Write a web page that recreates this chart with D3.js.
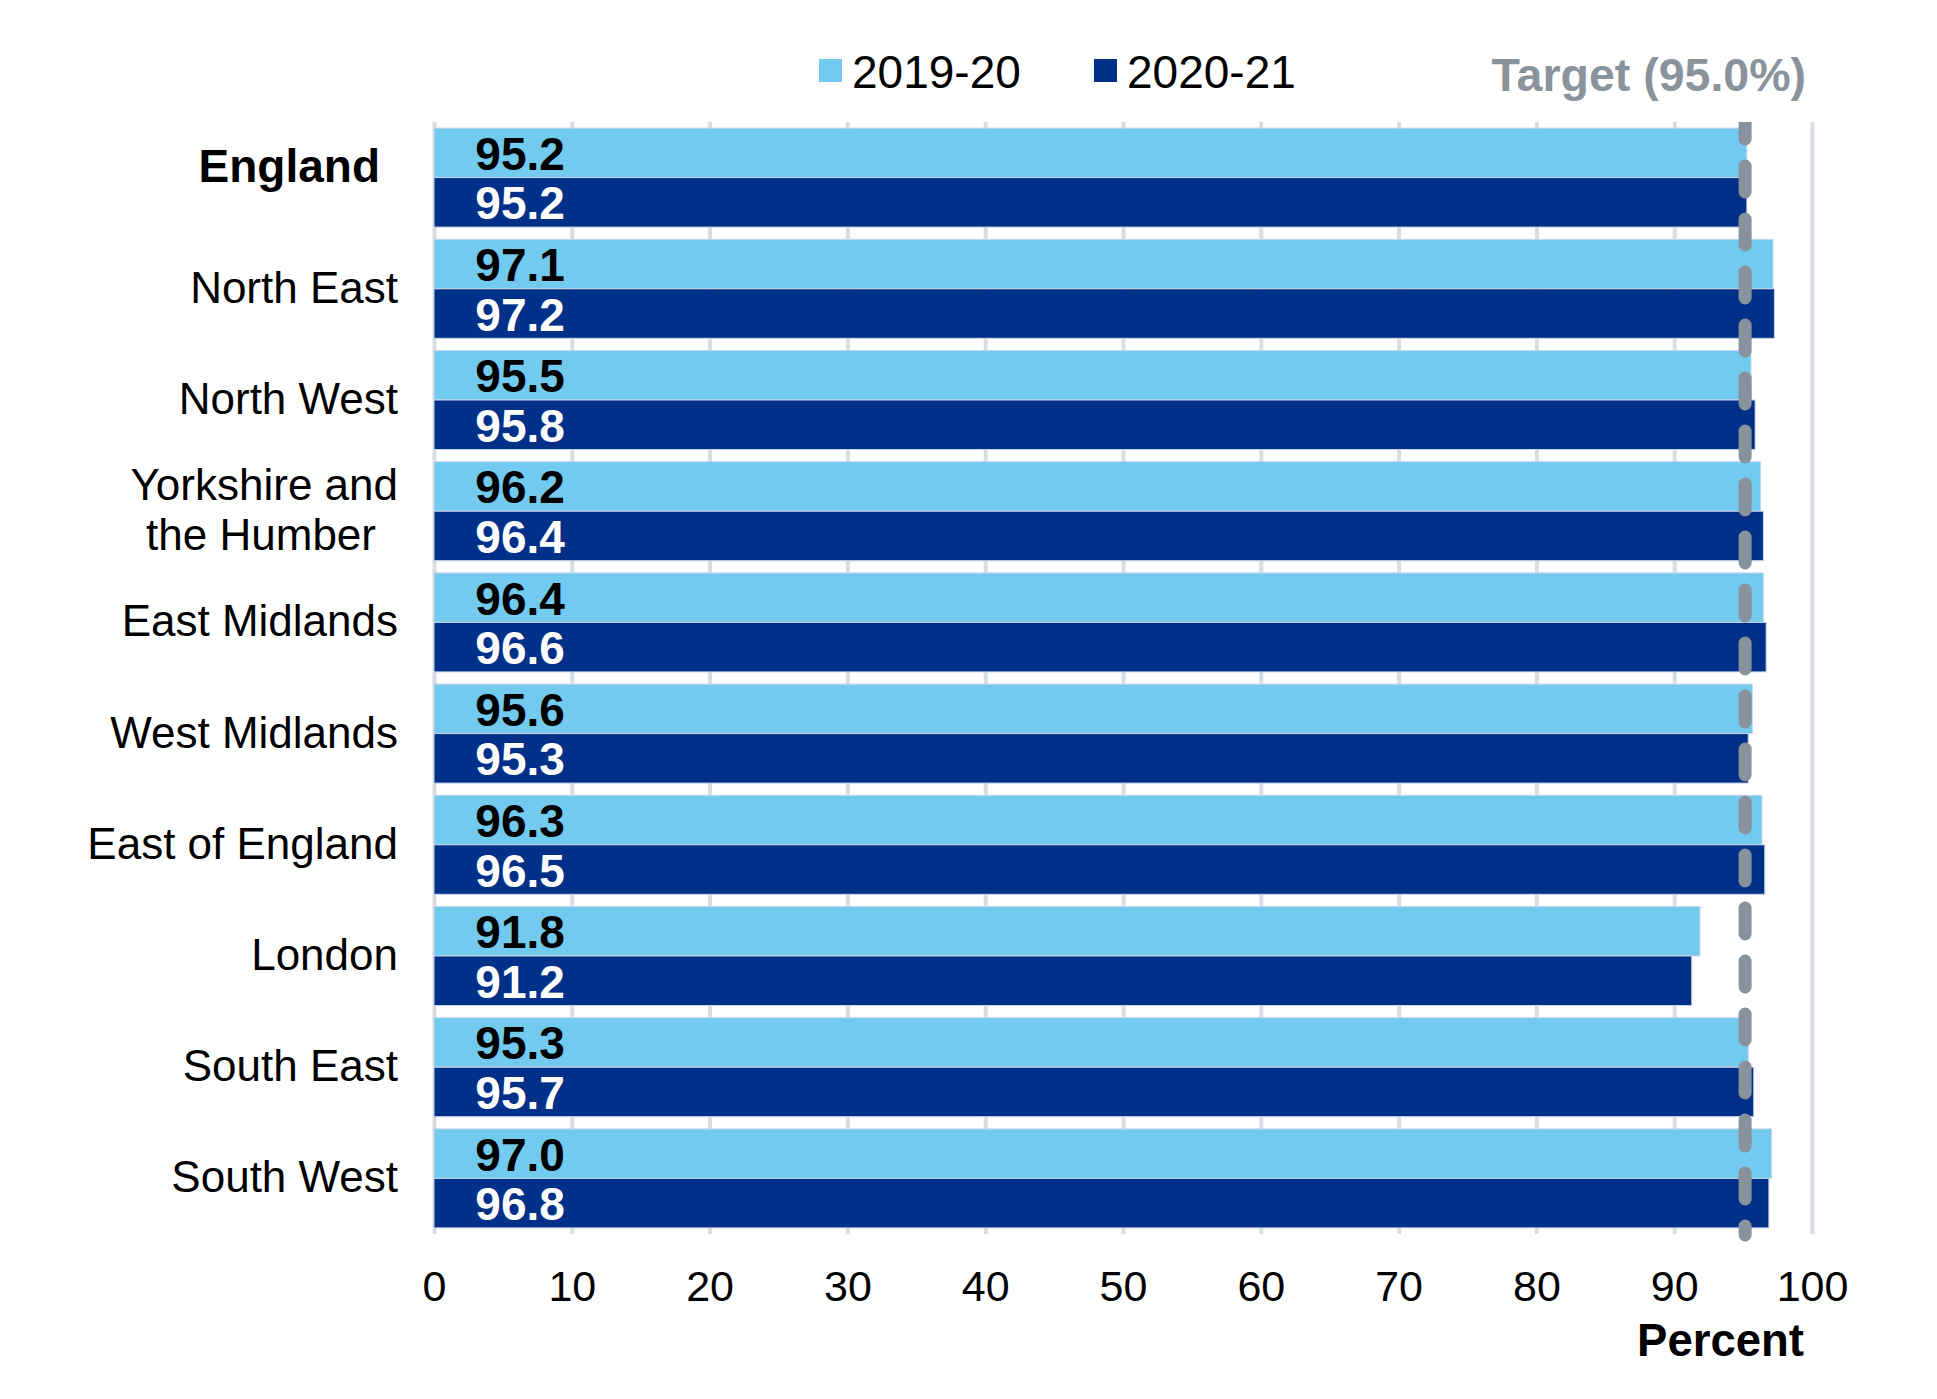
<html>
<head>
<script src="https://d3js.org/d3.v7.min.js"></script>
<style>
  body {margin: 0; background: white;}
  text {font-family: "Liberation Sans", Arial, sans-serif;}
</style>
</head>
<body>
<svg class="chart" width="1937" height="1399"></svg>
<script>
// data
var regions = ["England", "North East", "North West", "Yorkshire and the Humber", "East Midlands",
               "West Midlands", "East of England", "London", "South East", "South West"];
var years = ["2019-20", "2020-21"];
var values1920 = [95.2, 97.1, 95.5, 96.2, 96.4, 95.6, 96.3, 91.8, 95.3, 97.0];
var values2021 = [95.2, 97.2, 95.8, 96.4, 96.6, 95.3, 96.5, 91.2, 95.7, 96.8];
var xTicks = [0, 10, 20, 30, 40, 50, 60, 70, 80, 90, 100];
var target = 95.0;

var colours = ["#72caee", "#003087"];
var plotLeft = 434, plotRight = 1812, plotTop = 122, plotBottom = 1234;

var svg = d3.select(".chart");

var x = d3.scaleLinear().domain([0, 100]).range([plotLeft, plotRight]);
var y = d3.scaleBand().domain(regions).range([plotTop, plotBottom]).paddingInner(0.11).paddingOuter(0.055);
var y2 = d3.scaleBand().domain(years).range([0, y.bandwidth()]);

// gridlines
svg.append("g")
  .attr("transform", "translate(0," + plotBottom + ")")
  .call(d3.axisBottom(x).tickValues(xTicks).tickSize(-(plotBottom - plotTop)).tickFormat(""))
  .call(g => g.select(".domain").remove())
  .call(g => g.selectAll(".tick line").attr("stroke", "#d9dde1").attr("stroke-width", 4));

// bars
var rows = regions.map((r, i) => ({region: r, vals: [values1920[i], values2021[i]]}));
var grp = svg.append("g").selectAll("g").data(rows).enter().append("g")
  .attr("transform", d => "translate(0," + y(d.region) + ")");

grp.selectAll("rect").data(d => d.vals.map((v, j) => ({year: years[j], v: v, j: j})))
  .enter().append("rect")
  .attr("x", x(0))
  .attr("y", d => y2(d.year))
  .attr("width", d => x(d.v) - x(0) + 1)
  .attr("height", y2.bandwidth())
  .attr("fill", d => colours[d.j])
  .attr("stroke", "#c9d6ea")
  .attr("stroke-width", 1);

grp.selectAll("text.val").data(d => d.vals.map((v, j) => ({year: years[j], v: v, j: j})))
  .enter().append("text")
  .attr("class", "val")
  .attr("x", x(3))
  .attr("y", d => y2(d.year) + y2.bandwidth() / 2 + 17)
  .attr("font-size", 46)
  .attr("font-weight", "bold")
  .attr("fill", d => d.j == 0 ? "black" : "white")
  .text(d => d.v.toFixed(1));

// category labels
var labels = svg.append("g");
regions.forEach(function(r) {
  var cy = y(r) + y.bandwidth() / 2;
  if (r == "Yorkshire and the Humber") {
    labels.append("text").attr("x", 398).attr("y", cy - 11).attr("text-anchor", "end")
      .attr("font-size", 44).text("Yorkshire and");
    labels.append("text").attr("x", 376).attr("y", cy + 39).attr("text-anchor", "end")
      .attr("font-size", 44).text("the Humber");
  } else if (r == "England") {
    labels.append("text").attr("x", 380).attr("y", cy + 4).attr("text-anchor", "end")
      .attr("font-size", 46).attr("font-weight", "bold").text(r);
  } else {
    labels.append("text").attr("x", 398).attr("y", cy + 14).attr("text-anchor", "end")
      .attr("font-size", 44).text(r);
  }
});

// target line, top clipped flat
svg.append("clipPath").attr("id", "plotclip")
  .append("rect").attr("x", 0).attr("y", plotTop).attr("width", 1937).attr("height", 1399 - plotTop);
svg.append("line")
  .attr("clip-path", "url(#plotclip)")
  .attr("x1", x(target) + 2).attr("x2", x(target) + 2)
  .attr("y1", plotTop - 9).attr("y2", plotBottom + 1)
  .attr("stroke", "#88929c")
  .attr("stroke-width", 13)
  .attr("stroke-linecap", "round")
  .attr("stroke-dasharray", "26,27");

// x axis labels
svg.append("g")
  .attr("transform", "translate(0," + plotBottom + ")")
  .call(d3.axisBottom(x).tickValues(xTicks).tickSize(0).tickPadding(36))
  .call(g => g.select(".domain").remove())
  .call(g => g.selectAll(".tick text").attr("font-size", 43).attr("fill", "black")
    .attr("font-family", "Liberation Sans, Arial, sans-serif"));

svg.append("text")
  .attr("x", 1804).attr("y", 1356)
  .attr("text-anchor", "end")
  .attr("font-size", 45.5).attr("font-weight", "bold")
  .text("Percent");

// legend
var legend = svg.append("g");
var legendX = [819, 1094];
years.forEach(function(yr, i) {
  legend.append("rect").attr("x", legendX[i]).attr("y", 59).attr("width", 23).attr("height", 23).attr("fill", colours[i]);
  legend.append("text").attr("x", legendX[i] + 33).attr("y", 88).attr("font-size", 46).text(yr);
});
svg.append("text")
  .attr("x", 1806).attr("y", 91)
  .attr("text-anchor", "end")
  .attr("font-size", 46.5).attr("font-weight", "bold")
  .attr("fill", "#8a939c")
  .text("Target (95.0%)");
</script>
</body>
</html>
